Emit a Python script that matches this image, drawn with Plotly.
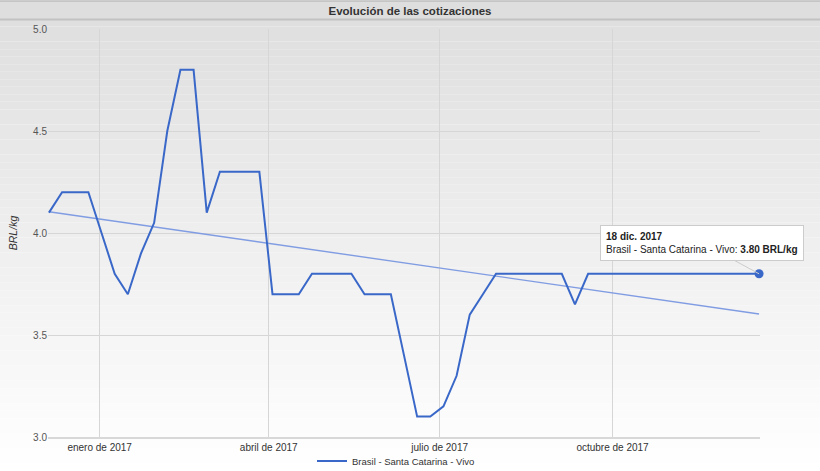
import numpy as np
import pandas as pd
import plotly.graph_objects as go

# ---- data ----
start_date = "2016-12-05"
series_name = "Brasil - Santa Catarina - Vivo"
unit = "BRL/kg"
prices = [4.10, 4.20, 4.20, 4.20, 4.00, 3.80, 3.70, 3.90, 4.05, 4.50,
          4.80, 4.80, 4.10, 4.30, 4.30, 4.30, 4.30, 3.70, 3.70, 3.70,
          3.80, 3.80, 3.80, 3.80, 3.70, 3.70, 3.70, 3.40, 3.10, 3.10,
          3.15, 3.30, 3.60, 3.70, 3.80, 3.80, 3.80, 3.80, 3.80, 3.80,
          3.65, 3.80, 3.80, 3.80, 3.80, 3.80, 3.80, 3.80, 3.80, 3.80,
          3.80, 3.80, 3.80, 3.80, 3.80]
tick_dates = ["2017-01-01", "2017-04-01", "2017-07-01", "2017-10-01"]
tick_labels = ["enero de 2017", "abril de 2017", "julio de 2017", "octubre de 2017"]
y_ticks = [3.0, 3.5, 4.0, 4.5, 5.0]
title_text = "Evolución de las cotizaciones"
month_abbr = ["ene.", "feb.", "mar.", "abr.", "may.", "jun.", "jul.", "ago.",
              "sept.", "oct.", "nov.", "dic."]

dates = pd.date_range(start_date, periods=len(prices), freq="7D")

# linear trend computed from the data
xnum = (dates - dates[0]).days.values.astype(float)
coef = np.polyfit(xnum, np.array(prices), 1)
trend = np.polyval(coef, xnum)

# ---- layout geometry (pixels) ----
W, H = 820, 471
L, R, T, B = 48, 60, 29, 34
pw, ph = W - L - R, H - T - B

def px_x(p):
    return (p - L) / pw

def px_y(p):
    return (H - B - p) / ph

FONT = "Liberation Sans, Arial, Helvetica, sans-serif"
LINE_COL = "#3a68c9"

fig = go.Figure()

fig.add_trace(go.Scatter(
    x=dates, y=trend, mode="lines",
    line=dict(color="#809ce2", width=1.4),
    showlegend=False, hoverinfo="skip"))

fig.add_trace(go.Scatter(
    x=dates, y=prices, mode="lines", name=series_name,
    line=dict(color=LINE_COL, width=2)))

fig.add_trace(go.Scatter(
    x=[dates[-1]], y=[prices[-1]], mode="markers",
    marker=dict(color=LINE_COL, size=9),
    showlegend=False, hoverinfo="skip", cliponaxis=False))

# ---- background gradient (bands) ----
shapes = []
g_top, g_bot = 19, H
n = 60
for i in range(n):
    y0 = g_top + (g_bot - g_top) * i / n
    y1 = g_top + (g_bot - g_top) * (i + 1) / n
    t = i / (n - 1)
    c = int(round(223 + (255 - 223) * t))
    shapes.append(dict(type="rect", xref="paper", yref="paper",
                       x0=px_x(0), x1=px_x(W), y0=px_y(y1), y1=px_y(y0),
                       fillcolor=f"rgb({c},{c},{c})", line=dict(width=0),
                       layer="below"))
# title bar
shapes.append(dict(type="rect", xref="paper", yref="paper",
                   x0=px_x(0), x1=px_x(W), y0=px_y(19), y1=px_y(1),
                   fillcolor="#dedede", line=dict(width=0), layer="below"))
shapes.append(dict(type="line", xref="paper", yref="paper",
                   x0=px_x(0), x1=px_x(W), y0=px_y(1), y1=px_y(1),
                   line=dict(color="#bdbdbd", width=1.5), layer="below"))
shapes.append(dict(type="line", xref="paper", yref="paper",
                   x0=px_x(0), x1=px_x(W), y0=px_y(19.5), y1=px_y(19.5),
                   line=dict(color="#c2c2c2", width=2), layer="below"))

last = dates[-1]
tip_date = f"{last.day} {month_abbr[last.month - 1]} {last.year}"
tip_text = (f"<b>{tip_date}</b><br>{series_name}: "
            f"<b>{prices[-1]:.2f} {unit}</b>")

fig.update_layout(
    width=W, height=H,
    margin=dict(l=L, r=R, t=T, b=B, autoexpand=False),
    paper_bgcolor="rgba(0,0,0,0)",
    plot_bgcolor="rgba(0,0,0,0)",
    font=dict(family=FONT, size=10, color="#333333"),
    title=dict(text=title_text, x=0.5, xanchor="center",
               y=1 - 11 / H, yanchor="middle", yref="container",
               font=dict(size=11.5, color="#333333", family=FONT, weight="bold")),
    shapes=shapes,
    showlegend=True,
    legend=dict(orientation="h", x=px_x(312), xanchor="left",
                y=px_y(461), yanchor="middle",
                bgcolor="rgba(0,0,0,0)", itemwidth=30,
                font=dict(size=9.5, color="#333333")),
    xaxis=dict(
        type="date", automargin=False,
        range=[dates[0] - pd.Timedelta(days=0.5), dates[-1] + pd.Timedelta(days=0.5)],
        tickmode="array", tickvals=tick_dates, ticktext=tick_labels,
        showgrid=True, gridcolor="#d6d6d6", gridwidth=1,
        showline=True, linecolor="#d8d8d8", linewidth=2,
        ticks="", tickfont=dict(size=10, color="#333333"),
        zeroline=False),
    yaxis=dict(
        range=[3.0, 5.0], tickmode="array", tickvals=y_ticks,
        tickformat=".1f", automargin=False,
        showgrid=True, gridcolor="#d6d6d6", gridwidth=1,
        showline=False, zeroline=False, ticks="",
        tickfont=dict(size=10, color="#555555"),
        title=dict(text=f"<i>{unit}</i>", standoff=13,
                   font=dict(size=10.5, color="#333333"))),
    annotations=[dict(
        x=dates[-1], y=prices[-1], xref="x", yref="y",
        text=tip_text, align="left", showarrow=True,
        arrowhead=0, arrowwidth=1, arrowcolor="#cccccc",
        ax=-57, ay=-31, bgcolor="white", bordercolor="#cccccc",
        borderwidth=1, borderpad=5,
        font=dict(size=10, color="#222222", family=FONT))],
)

fig.write_html("out.html",
               config={"displayModeBar": False},
               post_script="document.body.style.margin='0';")
